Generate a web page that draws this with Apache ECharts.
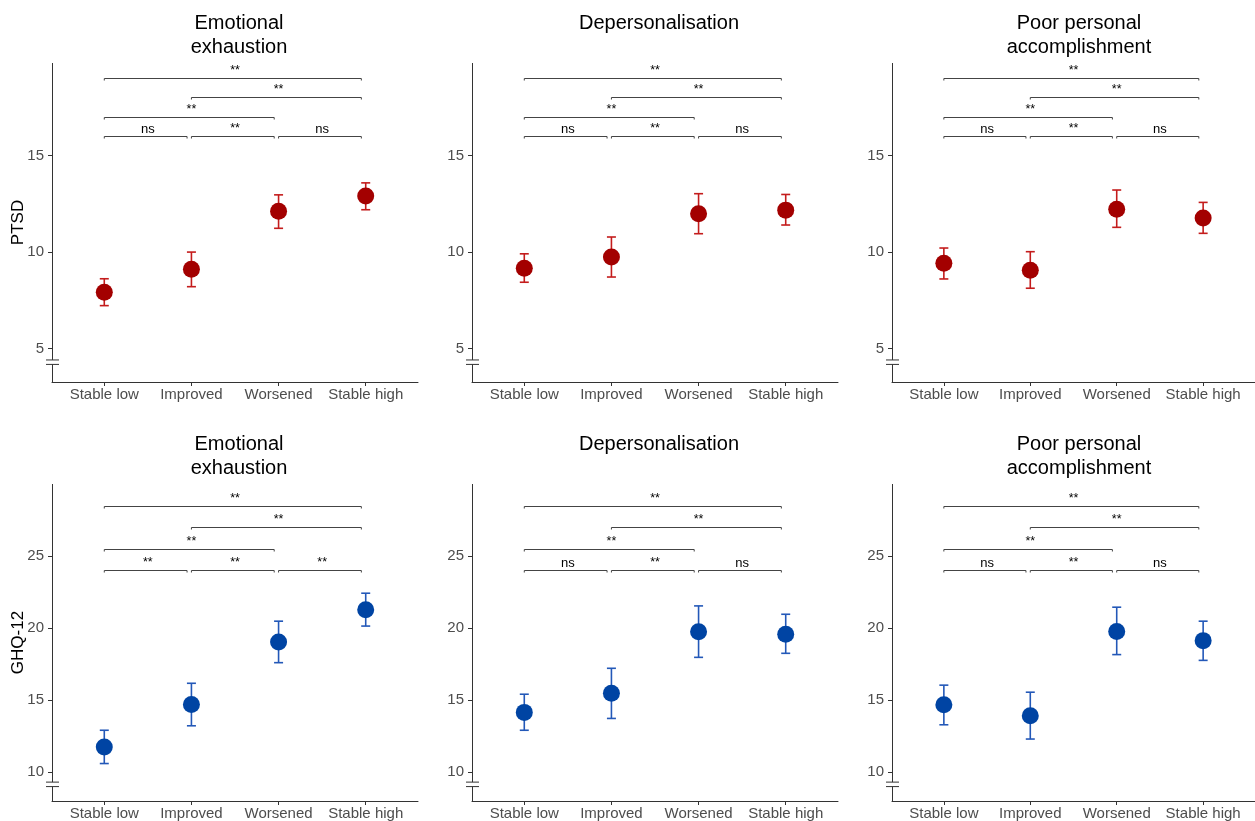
<!DOCTYPE html>
<html><head><meta charset="utf-8">
<script src="https://cdn.jsdelivr.net/npm/echarts@6/dist/echarts.min.js"></script>
<style>html,body{margin:0;padding:0;background:#fff}#c{width:1255px;height:821px}</style>
</head><body><div id="c"></div>
<script>
const categories = ['Stable low', 'Improved', 'Worsened', 'Stable high'];
const panelTitles = ['Emotional\nexhaustion', 'Depersonalisation', 'Poor personal\naccomplishment'];
const rowNames = ['PTSD', 'GHQ-12'];

// PTSD row
const ptsdEE_mean = [7.92, 9.11, 12.11, 12.90];
const ptsdEE_lo   = [7.23, 8.21, 11.23, 12.19];
const ptsdEE_hi   = [8.62, 10.00, 12.96, 13.58];
const ptsdDP_mean = [9.16, 9.74, 11.98, 12.17];
const ptsdDP_lo   = [8.44, 8.71, 10.95, 11.40];
const ptsdDP_hi   = [9.91, 10.78, 13.02, 12.98];
const ptsdPA_mean = [9.42, 9.06, 12.22, 11.76];
const ptsdPA_lo   = [8.61, 8.13, 11.28, 10.97];
const ptsdPA_hi   = [10.21, 10.02, 13.21, 12.57];
// GHQ-12 row
const ghqEE_mean = [11.75, 14.70, 19.03, 21.27];
const ghqEE_lo   = [10.60, 13.22, 17.60, 20.14];
const ghqEE_hi   = [12.91, 16.17, 20.48, 22.42];
const ghqDP_mean = [14.15, 15.48, 19.75, 19.58];
const ghqDP_lo   = [12.91, 13.73, 17.97, 18.25];
const ghqDP_hi   = [15.41, 17.21, 21.54, 20.96];
const ghqPA_mean = [14.68, 13.92, 19.77, 19.13];
const ghqPA_lo   = [13.29, 12.30, 18.16, 17.76];
const ghqPA_hi   = [16.04, 15.55, 21.45, 20.48];

// comparisons: [group a, group b]
const comparisons = [[0, 1], [1, 2], [2, 3], [0, 2], [1, 3], [0, 3]];
const ptsdBracketY = [16, 16, 16, 17, 18, 19];
const ghqBracketY  = [24, 24, 24, 25.5, 27, 28.5];
const ptsdEE_sig = ['ns', '**', 'ns', '**', '**', '**'];
const ptsdDP_sig = ['ns', '**', 'ns', '**', '**', '**'];
const ptsdPA_sig = ['ns', '**', 'ns', '**', '**', '**'];
const ghqEE_sig  = ['**', '**', '**', '**', '**', '**'];
const ghqDP_sig  = ['ns', '**', 'ns', '**', '**', '**'];
const ghqPA_sig  = ['ns', '**', 'ns', '**', '**', '**'];

const ptsdTicks = [5, 10, 15];
const ghqTicks = [10, 15, 20, 25];

const panels = [
  {row: 0, col: 0, mean: ptsdEE_mean, lo: ptsdEE_lo, hi: ptsdEE_hi, sig: ptsdEE_sig},
  {row: 0, col: 1, mean: ptsdDP_mean, lo: ptsdDP_lo, hi: ptsdDP_hi, sig: ptsdDP_sig},
  {row: 0, col: 2, mean: ptsdPA_mean, lo: ptsdPA_lo, hi: ptsdPA_hi, sig: ptsdPA_sig},
  {row: 1, col: 0, mean: ghqEE_mean, lo: ghqEE_lo, hi: ghqEE_hi, sig: ghqEE_sig},
  {row: 1, col: 1, mean: ghqDP_mean, lo: ghqDP_lo, hi: ghqDP_hi, sig: ghqDP_sig},
  {row: 1, col: 2, mean: ghqPA_mean, lo: ghqPA_lo, hi: ghqPA_hi, sig: ghqPA_sig}
];

const rowCfg = [
  {top: 63, height: 319, min: 3.28, max: 19.78, ticks: ptsdTicks, levels: ptsdBracketY, brk: [4.42, 4.19],
   point: '#A30000', bar: '#C41C1C'},
  {top: 484, height: 318, min: 8.0, max: 30.0, ticks: ghqTicks, levels: ghqBracketY, brk: [9.31, 9.0],
   point: '#0044A3', bar: '#2358B8'}
];
const colLeft = [52, 472, 892];
const gridW = 366;
const FONT = 'Liberation Sans, Arial, sans-serif';
const AX = '#333333';

const grid = [], xAxis = [], yAxis = [], series = [], title = [];

panels.forEach((p, gi) => {
  const rc = rowCfg[p.row];
  grid.push({left: colLeft[p.col], top: rc.top, width: gridW, height: rc.height, containLabel: false});
  xAxis.push({
    type: 'value', gridIndex: gi, min: -0.6, max: 3.6,
    splitLine: {show: false},
    axisLine: {show: true, onZero: false, lineStyle: {color: AX, width: 1}},
    axisTick: {show: true, length: 4, lineStyle: {color: AX}, customValues: [0, 1, 2, 3]},
    axisLabel: {show: true, customValues: [0, 1, 2, 3], formatter: v => categories[Math.round(v)],
      color: '#4D4D4D', fontSize: 15, fontFamily: FONT, margin: 5}
  });
  yAxis.push({
    type: 'value', gridIndex: gi, min: rc.min, max: rc.max,
    name: p.col === 0 ? rowNames[p.row] : '',
    nameLocation: 'middle', nameRotate: 90, nameGap: 25, nameMoveOverlap: false,
    nameTextStyle: {color: '#000', fontSize: 17, fontFamily: FONT},
    splitLine: {show: false},
    axisLine: {show: false, onZero: false},
    axisTick: {show: true, length: 4, lineStyle: {color: AX}, customValues: rc.ticks},
    axisLabel: {show: true, customValues: rc.ticks, color: '#4D4D4D', fontSize: 15, fontFamily: FONT, margin: 8}
  });
  title.push({
    text: panelTitles[p.col], left: colLeft[p.col] + gridW / 2 - 1, top: rc.top - 57, textAlign: 'center',
    textStyle: {fontSize: 20, fontWeight: 'normal', color: '#000', fontFamily: FONT, lineHeight: 24}
  });

  // y axis line with break
  series.push({
    type: 'custom', xAxisIndex: gi, yAxisIndex: gi, silent: true, z: 1,
    data: [[-0.6, rc.min]],
    renderItem: (params, api) => {
      const top = api.coord([-0.6, rc.max]);
      const bh = api.coord([-0.6, rc.brk[0]]);
      const bl = api.coord([-0.6, rc.brk[1]]);
      const bot = api.coord([-0.6, rc.min]);
      const x = Math.round(top[0]) + 0.5;
      const st = {stroke: AX, lineWidth: 1};
      return {type: 'group', children: [
        {type: 'line', shape: {x1: x, y1: top[1], x2: x, y2: bh[1]}, style: st},
        {type: 'line', shape: {x1: x, y1: bl[1], x2: x, y2: bot[1]}, style: st},
        {type: 'line', shape: {x1: x - 6.5, y1: bh[1], x2: x + 6.5, y2: bh[1]}, style: st},
        {type: 'line', shape: {x1: x - 6.5, y1: bl[1], x2: x + 6.5, y2: bl[1]}, style: st}
      ]};
    }
  });

  // error bars
  series.push({
    type: 'custom', xAxisIndex: gi, yAxisIndex: gi, silent: true, z: 2,
    encode: {x: 0, y: 1},
    data: p.mean.map((m, i) => [i, m, p.lo[i], p.hi[i]]),
    renderItem: (params, api) => {
      const i = api.value(0);
      const a = api.coord([i, api.value(3)]);
      const b = api.coord([i, api.value(2)]);
      const st = {stroke: rc.bar, lineWidth: 1.6};
      const w = 4.5;
      return {type: 'group', children: [
        {type: 'line', shape: {x1: a[0], y1: a[1], x2: b[0], y2: b[1]}, style: st},
        {type: 'line', shape: {x1: a[0] - w, y1: a[1], x2: a[0] + w, y2: a[1]}, style: st},
        {type: 'line', shape: {x1: b[0] - w, y1: b[1], x2: b[0] + w, y2: b[1]}, style: st}
      ]};
    }
  });

  // points
  series.push({
    type: 'scatter', xAxisIndex: gi, yAxisIndex: gi, z: 3, silent: true,
    symbol: 'circle', symbolSize: 17,
    itemStyle: {color: rc.point, opacity: 1},
    data: p.mean.map((m, i) => [i, m])
  });

  // significance brackets
  series.push({
    type: 'custom', xAxisIndex: gi, yAxisIndex: gi, silent: true, z: 2,
    encode: {x: 0, y: 2},
    data: comparisons.map((c, k) => [c[0], c[1], rc.levels[k]]),
    renderItem: (params, api) => {
      const k = params.dataIndex;
      const x0 = api.value(0), x1 = api.value(1) - 0.05, y = api.value(2);
      const p0 = api.coord([x0, y]);
      const p1 = api.coord([x1, y]);
      const yy = Math.round(p0[1]) + 0.5;
      const tip = 2;
      const lab = p.sig[k];
      const cx = (api.coord([api.value(0), y])[0] + api.coord([api.value(1), y])[0]) / 2;
      return {type: 'group', children: [
        {type: 'polyline', shape: {points: [[p0[0], yy + tip], [p0[0], yy], [p1[0], yy], [p1[0], yy + tip]]},
          style: {stroke: '#444', lineWidth: 1, fill: null}},
        {type: 'text', x: cx, y: yy - 1,
          style: {text: lab, fill: '#000', fontSize: lab === 'ns' ? 13 : 12.5, fontFamily: FONT,
            align: 'center', verticalAlign: 'bottom', textAlign: 'center', textVerticalAlign: 'bottom'}}
      ]};
    }
  });
});

const chart = echarts.init(document.getElementById('c'), null, {renderer: 'canvas'});
chart.setOption({
  backgroundColor: '#fff', animation: false,
  title, grid, xAxis, yAxis, series
});
</script>
</body></html>
